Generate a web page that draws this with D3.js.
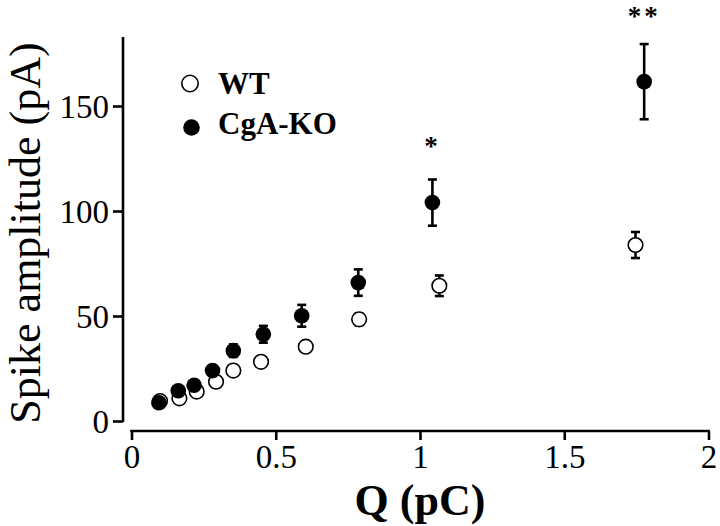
<!DOCTYPE html>
<html><head><meta charset="utf-8">
<script src="https://cdn.jsdelivr.net/npm/d3@7"></script>
<style>body{margin:0;background:#fff}svg{display:block}</style>
</head><body>
<svg id="c" width="720" height="526"></svg>
<script>
// Data
const wtQ   = [0.099, 0.166, 0.226, 0.293, 0.353, 0.449, 0.604, 0.789, 1.067, 1.747];
const wtAmp = [9.5, 10.8, 14.0, 18.7, 24.0, 28.2, 35.4, 48.4, 64.4, 83.8];
const wtErr = [1.0, 1.0, 1.2, 1.5, 1.8, 2.0, 2.3, 2.8, 4.9, 6.2];
const koQ   = [0.095, 0.162, 0.217, 0.281, 0.353, 0.457, 0.590, 0.786, 1.043, 1.777];
const koAmp = [8.7, 14.4, 17.0, 24.0, 33.5, 41.3, 50.1, 65.9, 104.0, 161.6];
const koErr = [1.0, 1.5, 2.0, 2.5, 3.0, 4.0, 5.2, 6.3, 11.0, 17.9];
const sigLabels = [{i: 8, t: "*"}, {i: 9, t: "**"}];
const xTicks = [0, 0.5, 1, 1.5, 2];
const xTickLabels = ["0", "0.5", "1", "1.5", "2"];
const yTicks = [0, 50, 100, 150];
const seriesNames = ["WT", "CgA-KO"];

const svg = d3.select("#c");
const font = "'Liberation Serif','Times New Roman',serif";
const x = d3.scaleLinear().domain([0, 2]).range([131.5, 708.5]);
const y = d3.scaleLinear().domain([0, 150]).range([421, 106]);
const yTop = 182.9;

// Y axis
const yAxisX = 123;
const gy = svg.append("g").attr("transform", `translate(${yAxisX},0)`)
  .call(d3.axisLeft(y).tickValues(yTicks).tickSize(10).tickPadding(4).tickFormat(d3.format("d")));
gy.select(".domain").remove();
gy.append("line").attr("x1", 0).attr("x2", 0).attr("y1", y(0) + 1).attr("y2", y(yTop))
  .attr("stroke", "#000").attr("stroke-width", 2.6);
gy.selectAll(".tick line").attr("stroke", "#000").attr("stroke-width", 2.6);
gy.selectAll(".tick text").attr("font-family", font).attr("font-size", 33).attr("fill", "#000")
  .attr("dy", "0.34em");

// X axis
const xAxisY = 431;
const gx = svg.append("g").attr("transform", `translate(0,${xAxisY})`)
  .call(d3.axisBottom(x).tickValues(xTicks).tickSize(9).tickPadding(4)
    .tickFormat((d, i) => xTickLabels[i]));
gx.select(".domain").remove();
gx.append("line").attr("x1", x(0) - 1.3).attr("x2", x(2) + 1.3).attr("y1", 0).attr("y2", 0)
  .attr("stroke", "#000").attr("stroke-width", 2.6);
gx.selectAll(".tick line").attr("stroke", "#000").attr("stroke-width", 2.6);
gx.selectAll(".tick text").attr("font-family", font).attr("font-size", 33).attr("fill", "#000")
  .attr("dy", "0.72em");

// Axis titles
svg.append("text").attr("x", x(1)).attr("y", 515).attr("text-anchor", "middle")
  .attr("font-family", font).attr("font-weight", "bold").attr("font-size", 44).text("Q (pC)");
svg.append("text").attr("transform", `translate(40,${233}) rotate(-90)`).attr("text-anchor", "middle")
  .attr("font-family", font).attr("font-size", 44).text("Spike amplitude (pA)");

// Error bars helper
function errBars(qs, amps, errs) {
  const g = svg.append("g").attr("stroke", "#000").attr("stroke-width", 2.6);
  qs.forEach((q, i) => {
    const cx = x(q), t = y(amps[i] + errs[i]), b = y(amps[i] - errs[i]);
    g.append("line").attr("x1", cx).attr("x2", cx).attr("y1", t).attr("y2", b);
    g.append("line").attr("x1", cx - 4.5).attr("x2", cx + 4.5).attr("y1", t).attr("y2", t);
    g.append("line").attr("x1", cx - 4.5).attr("x2", cx + 4.5).attr("y1", b).attr("y2", b);
  });
}

// WT
errBars(wtQ, wtAmp, wtErr);
svg.append("g").selectAll("circle").data(wtQ).join("circle")
  .attr("cx", d => x(d)).attr("cy", (d, i) => y(wtAmp[i])).attr("r", 7.3)
  .attr("fill", "#fff").attr("stroke", "#000").attr("stroke-width", 1.6);

// KO
errBars(koQ, koAmp, koErr);
svg.append("g").selectAll("circle").data(koQ).join("circle")
  .attr("cx", d => x(d)).attr("cy", (d, i) => y(koAmp[i])).attr("r", 7.8)
  .attr("fill", "#000");

// significance
sigLabels.forEach(s => {
  const by = Math.max(y(koAmp[s.i] + koErr[s.i]) - 25, 24.5);
  svg.append("text").attr("x", x(koQ[s.i])).attr("y", by)
    .attr("text-anchor", "middle").attr("font-family", font).attr("font-weight", "bold")
    .attr("font-size", 27).attr("letter-spacing", 3).text(s.t);
});

// Legend
const leg = svg.append("g");
leg.append("circle").attr("cx", 190).attr("cy", 83.5).attr("r", 8.2)
  .attr("fill", "#fff").attr("stroke", "#000").attr("stroke-width", 1.6);
leg.append("circle").attr("cx", 191.5).attr("cy", 127.5).attr("r", 8.3).attr("fill", "#000");
leg.append("text").attr("x", 218).attr("y", 94).attr("font-family", font).attr("font-weight", "bold")
  .attr("font-size", 31).text(seriesNames[0]);
leg.append("text").attr("x", 218).attr("y", 133.5).attr("font-family", font).attr("font-weight", "bold")
  .attr("font-size", 31).text(seriesNames[1]);
</script>
</body></html>
